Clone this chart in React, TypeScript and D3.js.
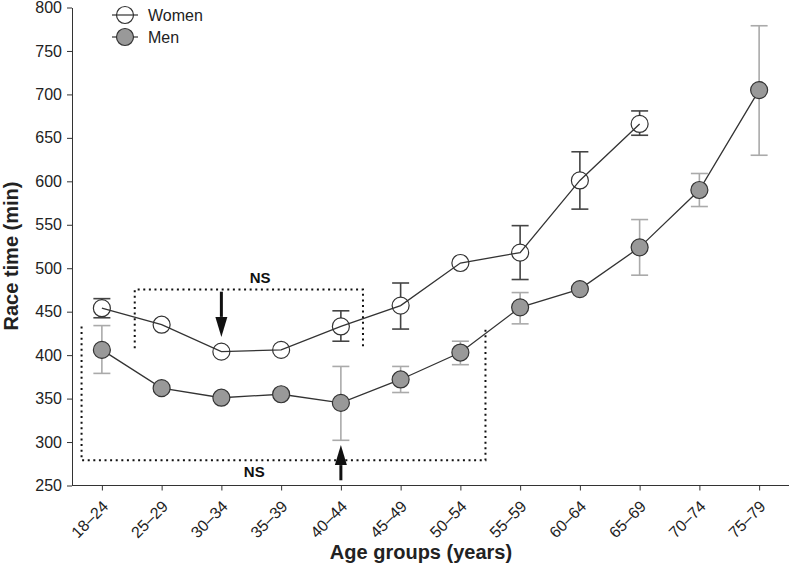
import React, { useEffect, useRef } from 'react';
import * as d3 from 'd3';

// Age groups on the x axis
const ageGroups = [
  '18–24', '25–29', '30–34', '35–39', '40–44', '45–49',
  '50–54', '55–59', '60–64', '65–69', '70–74', '75–79',
];

// Mean race times (min); null where no error bar is drawn
const womenMean = [454, 435, 404, 406, 433, 457, 506, 518, 601, 666];
const womenHigh = [465, null, null, null, 451, 483, null, 549, 634, 681];
const womenLow = [443, null, null, null, 416, 430, null, 487, 568, 653];

const menMean = [406, 362, 351, 355, 345, 372, 403, 455, 476, 524, 590, 705];
const menHigh = [434, null, null, null, 387, 387, 416, 472, null, 556, 609, 779];
const menLow = [379, null, null, null, 302, 357, 389, 436, null, 492, 571, 630];

const yTicks = [250, 300, 350, 400, 450, 500, 550, 600, 650, 700, 750, 800];

const FONT = '"Liberation Sans", Arial, Helvetica, sans-serif';

const App: React.FC = () => {
  const svgRef = useRef<SVGSVGElement>(null);

  useEffect(() => {
    if (!svgRef.current) return;
    const svg = d3.select(svgRef.current);
    svg.selectAll('*').remove();

    const left = 72, right = 789, top = 7.5, bottom = 485.5;
    const r = 8.5;

    const x = d3.scalePoint<string>().domain(ageGroups).range([left, right]).padding(0.5);
    const y = d3.scaleLinear().domain([250, 800]).range([bottom, top]);
    const step = x.step();

    // axes
    const yAxis = svg.append('g')
      .attr('transform', `translate(${left},0)`)
      .call(d3.axisLeft(y).tickValues(yTicks).tickSize(5).tickSizeOuter(0).tickPadding(5));
    yAxis.selectAll('text').style('font-size', '16px').style('font-family', FONT).attr('fill', '#222');

    const xAxis = svg.append('g')
      .attr('transform', `translate(0,${bottom})`)
      .call(d3.axisBottom(x).tickSize(5).tickSizeOuter(0));
    xAxis.selectAll('text')
      .style('font-size', '16px')
      .style('font-family', FONT)
      .attr('fill', '#222')
      .attr('text-anchor', 'end')
      .attr('x', 0)
      .attr('y', 0)
      .attr('dy', '0.35em')
      .attr('transform', 'translate(3,18) rotate(-45)');
    svg.selectAll('.domain, .tick line').attr('stroke', '#333');
    // extend x axis line to the y axis
    xAxis.select('.domain').attr('d', `M${left},0H${right}`);

    // axis titles
    svg.append('text')
      .attr('x', 421).attr('y', 559)
      .attr('text-anchor', 'middle')
      .style('font-family', FONT).style('font-size', '20px').style('font-weight', 'bold')
      .attr('fill', '#222')
      .text('Age groups (years)');

    svg.append('text')
      .attr('transform', `translate(18,256) rotate(-90)`)
      .attr('text-anchor', 'middle')
      .style('font-family', FONT).style('font-size', '20px').style('font-weight', 'bold')
      .attr('fill', '#222')
      .text('Race time (min)');

    // NS boxes (dotted)
    const dotted = (path: string) => svg.append('path')
      .attr('d', path)
      .attr('fill', 'none')
      .attr('stroke', '#111')
      .attr('stroke-width', 2)
      .attr('stroke-dasharray', '2,3.6');

    const ux0 = x('18–24')! + step * 0.55, ux1 = x('40–44')! + step * 0.37;
    dotted(`M${ux0},${y(408)}V${y(475.5)}H${ux1}V${y(410)}`);
    const lx0 = x('18–24')! - step * 0.34, lx1 = x('50–54')! + step * 0.42;
    dotted(`M${lx0},${y(433)}V${y(279)}H${lx1}V${y(433)}`);

    const ns = (cx: number, cy: number) => svg.append('text')
      .attr('x', cx).attr('y', cy)
      .attr('text-anchor', 'middle')
      .style('font-family', FONT).style('font-size', '15px').style('font-weight', 'bold')
      .attr('fill', '#111')
      .text('NS');
    ns(x('30–34')! + step * 0.65, y(477) - 5.5);
    ns(x('30–34')! + step * 0.55, y(279) + 16.5);

    // arrows
    const arrow = (ax: number, from: number, to: number) => {
      const dir = Math.sign(to - from);
      const headLen = 20, headW = 6;
      svg.append('line')
        .attr('x1', ax).attr('x2', ax)
        .attr('y1', from).attr('y2', to - dir * headLen)
        .attr('stroke', '#111').attr('stroke-width', 3);
      svg.append('path')
        .attr('d', `M${ax - headW},${to - dir * headLen}L${ax + headW},${to - dir * headLen}L${ax},${to}Z`)
        .attr('fill', '#111');
    };
    arrow(x('30–34')!, y(473), y(421));
    arrow(x('40–44')!, y(256), y(296.5));

    // error bars
    const errorBars = (
      means: number[], highs: (number | null)[], lows: (number | null)[], color: string,
    ) => {
      means.forEach((m, i) => {
        const hi = highs[i], lo = lows[i];
        if (hi == null || lo == null) return;
        const cx = x(ageGroups[i])!;
        const g = svg.append('g').attr('stroke', color).attr('stroke-width', 1.6);
        g.append('line').attr('x1', cx).attr('x2', cx).attr('y1', y(hi)).attr('y2', y(m) - r);
        g.append('line').attr('x1', cx).attr('x2', cx).attr('y1', y(m) + r).attr('y2', y(lo));
        g.append('line').attr('x1', cx - 8.5).attr('x2', cx + 8.5).attr('y1', y(hi)).attr('y2', y(hi));
        g.append('line').attr('x1', cx - 8.5).attr('x2', cx + 8.5).attr('y1', y(lo)).attr('y2', y(lo));
      });
    };
    errorBars(womenMean, womenHigh, womenLow, '#444');
    errorBars(menMean, menHigh, menLow, '#aaa');

    // lines
    const line = d3.line<number>().x((_, i) => x(ageGroups[i])!).y(d => y(d));
    [womenMean, menMean].forEach(series => {
      svg.append('path')
        .datum(series)
        .attr('d', line)
        .attr('fill', 'none')
        .attr('stroke', '#333')
        .attr('stroke-width', 1.3);
    });

    // points
    svg.append('g').selectAll('circle')
      .data(menMean)
      .join('circle')
      .attr('cx', (_, i) => x(ageGroups[i])!)
      .attr('cy', d => y(d))
      .attr('r', r)
      .attr('fill', '#999')
      .attr('stroke', '#333')
      .attr('stroke-width', 1.2);

    svg.append('g').selectAll('circle')
      .data(womenMean)
      .join('circle')
      .attr('cx', (_, i) => x(ageGroups[i])!)
      .attr('cy', d => y(d))
      .attr('r', r)
      .attr('fill', 'none')
      .attr('stroke', '#333')
      .attr('stroke-width', 1.2);

    // legend
    const legend = [
      { label: 'Women', fill: 'none' },
      { label: 'Men', fill: '#999' },
    ];
    legend.forEach((d, i) => {
      const ly = 15 + i * 22;
      svg.append('line')
        .attr('x1', 112).attr('x2', 138).attr('y1', ly).attr('y2', ly)
        .attr('stroke', '#333').attr('stroke-width', 1.2);
      svg.append('circle')
        .attr('cx', 125).attr('cy', ly).attr('r', r)
        .attr('fill', d.fill).attr('stroke', '#333').attr('stroke-width', 1.2);
      svg.append('text')
        .attr('x', 148).attr('y', ly + 6)
        .style('font-family', FONT).style('font-size', '16px')
        .attr('fill', '#222')
        .text(d.label);
    });
  }, []);

  return (
    <svg
      ref={svgRef}
      width={790}
      height={566}
      style={{ position: 'absolute', left: 0, top: 0, background: '#fff' }}
    />
  );
};

export default App;
